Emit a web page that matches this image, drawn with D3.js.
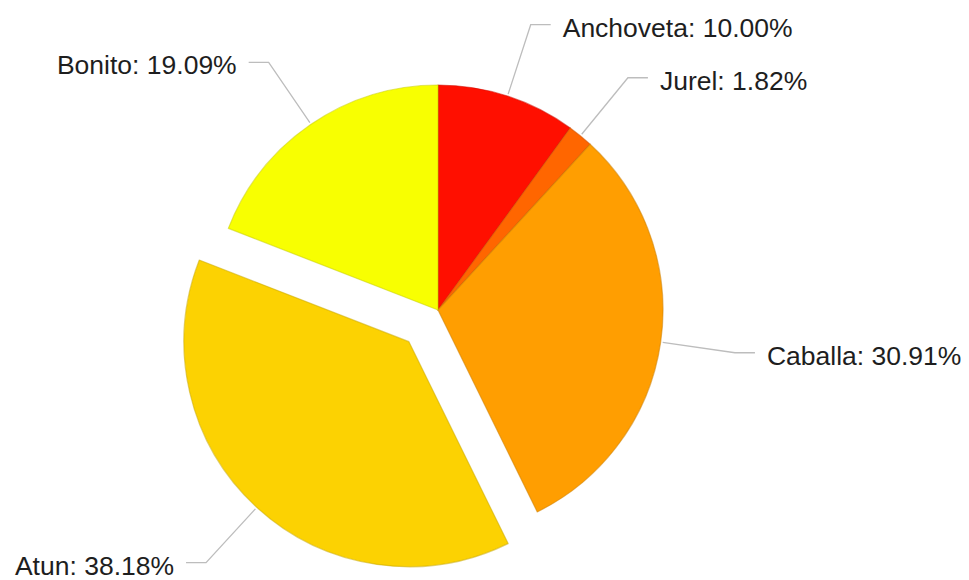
<!DOCTYPE html>
<html>
<head>
<meta charset="utf-8">
<script src="https://cdn.jsdelivr.net/npm/d3@7/dist/d3.min.js"></script>
<style>
  html, body { margin: 0; padding: 0; background: #ffffff; }
  svg { display: block; }
  .lbl { font-family: "Liberation Sans", Arial, sans-serif; font-size: 26.5px; fill: #1e1e1e; }
</style>
</head>
<body>
<svg id="chart" width="969" height="580"></svg>
<script>
// Catch composition by species
const categories = ["Anchoveta", "Jurel", "Caballa", "Atun", "Bonito"];
const percents = [10.00, 1.82, 30.91, 38.18, 19.09];
const colors = ["#FF0F00", "#FF6600", "#FF9E01", "#FCD202", "#F8FF01"];
const pulledOut = ["Atun"];

const width = 969, height = 580;
const cx = 438, cy = 310;
const radius = 225;
const pullDistance = 43;
const labelRadius = 300;
const tickLen = 20;
const textGap = 12;

const svg = d3.select("#chart");
const g = svg.append("g").attr("transform", `translate(${cx},${cy})`);

const data = categories.map((c, i) => ({ name: c, value: percents[i], color: colors[i] }));

const pie = d3.pie().sort(null).value(d => d.value);
const arc = d3.arc().innerRadius(0).outerRadius(radius);
const arcs = pie(data);

// offset of a slice's own centre (exploded slices move along their mid-angle)
function offset(d) {
  if (!pulledOut.includes(d.data.name)) return [0, 0];
  const a = (d.startAngle + d.endAngle) / 2;
  return [Math.sin(a) * pullDistance, -Math.cos(a) * pullDistance];
}

const slices = g.selectAll("g.slice").data(arcs).enter().append("g")
  .attr("class", "slice")
  .attr("transform", d => { const o = offset(d); return `translate(${o[0]},${o[1]})`; });

slices.append("path")
  .attr("d", arc)
  .attr("fill", d => d.data.color)
  .attr("stroke", d => d3.color(d.data.color).darker(0.6))
  .attr("stroke-width", 1.2)
  .attr("stroke-opacity", 0.55)
  .attr("stroke-linejoin", "round");

// leader lines and labels
const labels = g.selectAll("g.label").data(arcs).enter().append("g").attr("class", "label");

labels.each(function(d) {
  const sel = d3.select(this);
  const o = offset(d);
  const a = (d.startAngle + d.endAngle) / 2;
  const sx = Math.sin(a), sy = -Math.cos(a);
  const right = sx >= 0 ? 1 : -1;
  const p0 = [o[0] + sx * (radius + 2), o[1] + sy * (radius + 2)];
  const p1 = [o[0] + sx * labelRadius, o[1] + sy * labelRadius];
  const p2 = [p1[0] + right * tickLen, p1[1]];
  sel.append("path")
    .attr("d", d3.line()([p0, p1, p2]))
    .attr("fill", "none")
    .attr("stroke", "#bdbdbd")
    .attr("stroke-width", 1.3);
  sel.append("text")
    .attr("class", "lbl")
    .attr("x", p2[0] + right * textGap)
    .attr("y", p2[1] + 12)
    .attr("text-anchor", right > 0 ? "start" : "end")
    .text(`${d.data.name}: ${d3.format(".2f")(d.data.value)}%`);
});
</script>
</body>
</html>
